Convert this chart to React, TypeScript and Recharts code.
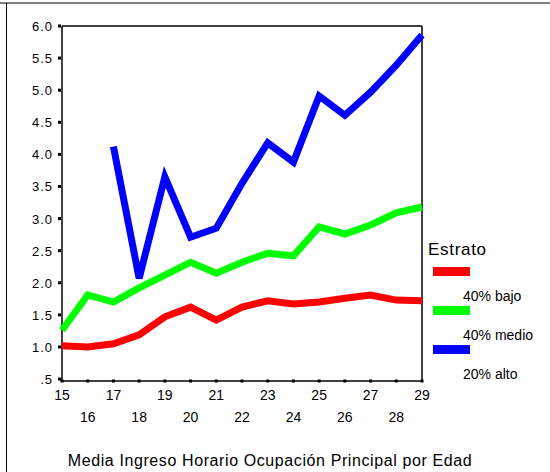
import { LineChart, Line, XAxis, YAxis, ReferenceLine } from 'recharts';

const ages = [15, 16, 17, 18, 19, 20, 21, 22, 23, 24, 25, 26, 27, 28, 29];
const bajo = [1.02, 1.0, 1.05, 1.19, 1.47, 1.62, 1.42, 1.62, 1.72, 1.67, 1.7, 1.76, 1.81, 1.73, 1.72];
const medio = [1.26, 1.81, 1.7, 1.92, 2.12, 2.32, 2.15, 2.32, 2.46, 2.42, 2.87, 2.76, 2.9, 3.09, 3.18];
const alto = [null, null, 4.12, 2.07, 3.65, 2.71, 2.85, 3.55, 4.18, 3.88, 4.91, 4.61, 4.97, 5.39, 5.86];
const yTicks = [0.5, 1, 1.5, 2, 2.5, 3, 3.5, 4, 4.5, 5, 5.5, 6];

const series = [
  { key: 'bajo', name: '40% bajo', color: '#ff0000' },
  { key: 'medio', name: '40% medio', color: '#00ff00' },
  { key: 'alto', name: '20% alto', color: '#0000ff' },
];

const data = ages.map((age, i) => ({ age, bajo: bajo[i], medio: medio[i], alto: alto[i] }));

const FONT = '"Liberation Sans", Arial, sans-serif';

// tick y arrives 8px below the axis line
const XTick = (props: any) => {
  const { x, y, payload } = props;
  const even = payload.value % 2 === 0;
  const ay = y - 8;
  return (
    <g>
      <rect x={x - 1.5} y={ay - 1.5} width={3} height={3} fill="#000" />
      <text x={x} y={ay + (even ? 41 : 19)} textAnchor="middle" fontSize={14} fontFamily={FONT} fill="#000">
        {payload.value}
      </text>
    </g>
  );
};

// tick x arrives 8px left of the axis line
const YTick = (props: any) => {
  const { x, y, payload } = props;
  const ax = x + 8;
  const label = payload.value === 0.5 ? '.5' : payload.value.toFixed(1);
  return (
    <g>
      <rect x={ax - 4} y={y - 1.5} width={3} height={3} fill="#000" />
      <text x={ax - 9} y={y + 5} textAnchor="end" fontSize={13} letterSpacing={1} fontFamily={FONT} fill="#000">
        {label}
      </text>
    </g>
  );
};

const LegendBox = () => (
  <div style={{ fontFamily: FONT, color: '#000', position: 'absolute', left: 428, top: 240, width: 120, height: 150 }}>
    <div style={{ position: 'absolute', left: 0, top: 0, fontSize: 17, letterSpacing: 0.7 }}>Estrato</div>
    {series.map((s, i) => (
      <div key={s.key}>
        <div style={{ position: 'absolute', left: 5, top: 27 + i * 39, width: 37, height: 9, background: s.color }} />
        <div style={{ position: 'absolute', left: 35, top: 48 + i * 39, fontSize: 14, whiteSpace: 'nowrap' }}>{s.name}</div>
      </div>
    ))}
  </div>
);

export default function App() {
  return (
    <div style={{ position: 'absolute', left: 0, top: 0, width: 550, height: 472, background: '#fff' }}>
      <div style={{ position: 'absolute', left: 0, top: 2, width: 550, height: 2, background: '#808080' }} />
      <div style={{ position: 'absolute', left: 6, top: 3, width: 1, height: 469, background: '#000' }} />
      <LineChart width={550} height={472} data={data} margin={{ top: 26, right: 128, bottom: 0, left: 0 }}>
        <XAxis
          dataKey="age"
          type="number"
          domain={[15, 29]}
          ticks={ages}
          interval={0}
          height={91}
          tickLine={false}
          axisLine={false}
          tick={<XTick />}
        />
        <YAxis
          type="number"
          domain={[0.47, 6]}
          ticks={yTicks}
          interval={0}
          width={62}
          tickLine={false}
          axisLine={false}
          tick={<YTick />}
        />
        <ReferenceLine y={6} stroke="#000" strokeWidth={1.5} />
        <ReferenceLine x={29} stroke="#000" strokeWidth={1.5} />
        <ReferenceLine y={0.47} stroke="#000" strokeWidth={1.5} />
        <ReferenceLine x={15} stroke="#000" strokeWidth={1.5} />
        {series.map((s) => (
          <Line
            key={s.key}
            dataKey={s.key}
            name={s.name}
            stroke={s.color}
            strokeWidth={7}
            strokeLinejoin="miter"
            strokeLinecap="butt"
            dot={false}
            activeDot={false}
            isAnimationActive={false}
          />
        ))}
      </LineChart>
      <LegendBox />
      <div
        style={{
          position: 'absolute',
          left: 0,
          width: 540,
          top: 452,
          textAlign: 'center',
          fontFamily: FONT,
          fontSize: 16,
          letterSpacing: 0.6,
          color: '#000',
        }}
      >
        Media Ingreso Horario Ocupación Principal por Edad
      </div>
    </div>
  );
}
